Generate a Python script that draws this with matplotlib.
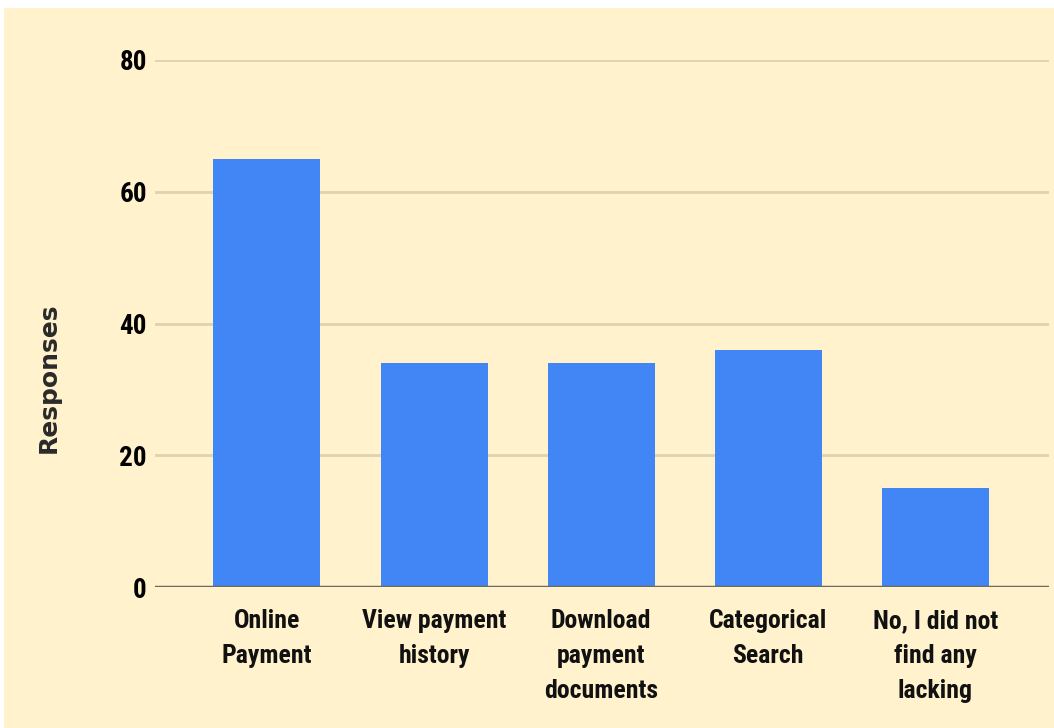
import matplotlib
matplotlib.use("Agg")
import matplotlib.pyplot as plt
from matplotlib.patches import Rectangle
from matplotlib import font_manager

categories = ["Online\nPayment", "View payment\nhistory", "Download\npayment\ndocuments",
              "Categorical\nSearch", "No, I did not\nfind any\nlacking"]
responses = [65, 34, 34, 36, 15]
yticks = [0, 20, 40, 60, 80]


def pick_font(prefs, fallback):
    bold = {f.name for f in font_manager.fontManager.ttflist
            if isinstance(f.weight, int) and f.weight >= 700 or f.weight == "bold"}
    for p in prefs:
        if p in bold:
            return p
    return fallback


narrow = pick_font(["Roboto Condensed", "Arial Narrow", "Liberation Sans Narrow",
                    "Barlow Semi Condensed", "Asap Condensed", "Archivo Narrow"], "DejaVu Sans")

fig = plt.figure(figsize=(10.54, 7.28), dpi=100)
fig.patch.set_facecolor("white")
# cream panel
fig.patches.append(Rectangle((4/1054, 0), 1 - 4/1054, 1 - 8/728, transform=fig.transFigure,
                             facecolor="#FFF2CC", edgecolor="none", zorder=-5))

ax = fig.add_axes([155/1054, (728-587)/728, (1049-155)/1054, (587-60)/728])
ax.set_facecolor("none")
x = list(range(len(categories)))
ax.bar(x, responses, width=0.64, color="#4285F4", zorder=3)
ax.set_xlim(-0.67, len(categories) - 1 + 0.68)
ax.set_ylim(0, 80)
ax.set_yticks(yticks)
ax.set_yticklabels([str(v) for v in yticks], fontfamily=narrow, fontweight="bold",
                   fontsize=19.5, color="black")
ax.set_xticks(x)
ax.set_xticklabels(categories, fontfamily=narrow, fontweight="bold", fontsize=18.5,
                   color="#111111", linespacing=1.58, va="top")
ax.tick_params(axis="both", length=0)
ax.tick_params(axis="y", pad=6)
ax.tick_params(axis="x", pad=16)
for v in yticks[1:]:
    ax.axhline(v, color="#DDD3B0", lw=2, zorder=1)
ax.axhline(0, color="#6E6A5C", lw=2.5, zorder=4)
for s in ax.spines.values():
    s.set_visible(False)
ax.set_ylabel("Responses", fontsize=18, fontweight="bold", color="#2A2A2A",
              fontfamily="DejaVu Sans")
ax.yaxis.label.set_va("center")
ax.yaxis.set_label_coords((49 - 155) / 894, (587 - 378) / 527)
fig.savefig("out.png", dpi=100)
